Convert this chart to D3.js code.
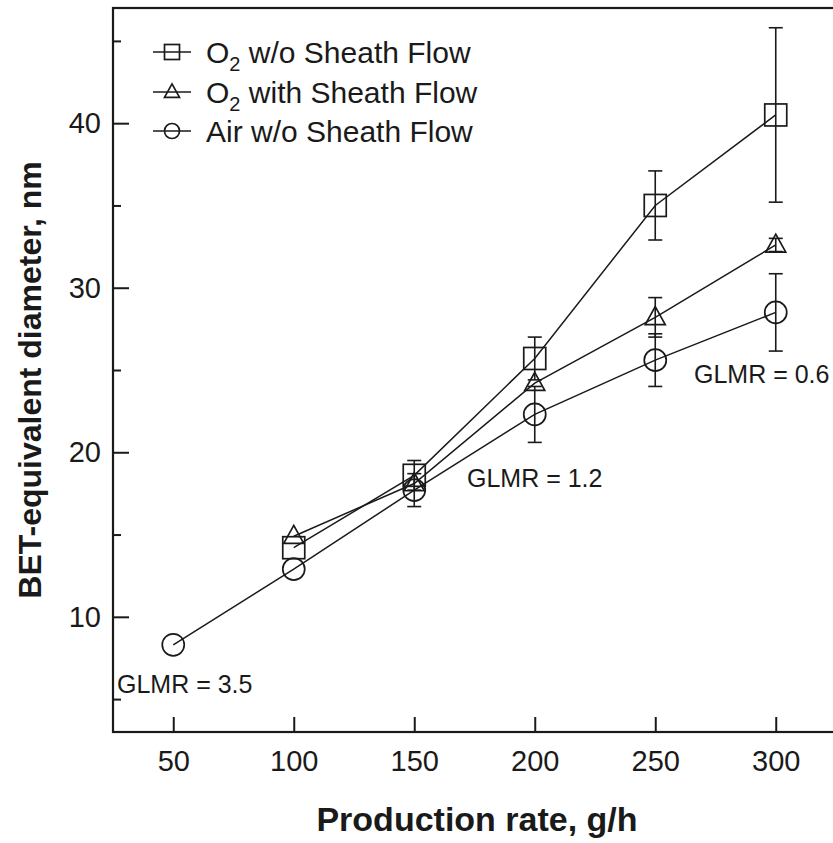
<!DOCTYPE html>
<html>
<head>
<meta charset="utf-8">
<script src="https://cdn.jsdelivr.net/npm/d3@7"></script>
<style>
  html, body { margin: 0; padding: 0; background: #fff; }
  svg { display: block; font-family: "Liberation Sans", Arial, Helvetica, sans-serif; }
</style>
</head>
<body>
<svg id="chart" width="833" height="843"></svg>
<script>
// Production rate (g/h)
const rates = [50, 100, 150, 200, 250, 300];

// BET-equivalent diameter (nm) and error half-widths for each burner setting
const o2NoSheath    = [null, 14.2, 18.6, 25.7, 35.0, 40.5];
const o2NoSheathErr = [null, 0, 0.9, 1.3, 2.1, 5.3];
const o2Sheath      = [null, 14.9, 18.1, 24.2, 28.2, 32.6];
const o2SheathErr   = [null, 0, 0, 0, 1.2, 0.4];
const airNoSheath   = [8.3, 12.9, 17.7, 22.3, 25.6, 28.5];
const airNoSheathErr= [0, 0, 1.0, 1.7, 1.6, 2.35];

const xTicks = [50, 100, 150, 200, 250, 300];
const yMajorTicks = [10, 20, 30, 40];
const yMinorTicks = [5, 15, 25, 35, 45];

const seriesNames = ["O2 w/o Sheath Flow", "O2 with Sheath Flow", "Air w/o Sheath Flow"];
const seriesSymbols = ["square", "triangle", "circle"];

// Gas-to-liquid mass ratio annotations
const glmrLabels = ["GLMR = 3.5", "GLMR = 1.2", "GLMR = 0.6"];

const svg = d3.select("#chart");
const ink = "#1a1a1a";

const x = d3.scaleLinear().domain([25, 325]).range([113, 836]);
const y = d3.scaleLinear().domain([3, 47]).range([732, 8]);

// plot frame
svg.append("rect")
  .attr("x", x(25)).attr("y", y(47))
  .attr("width", x(325) - x(25)).attr("height", y(3) - y(47))
  .attr("fill", "none").attr("stroke", ink).attr("stroke-width", 2.2);

// axes with inward ticks
const xAxis = svg.append("g").attr("transform", `translate(0,${y(3)})`)
  .call(d3.axisBottom(x).tickValues(xTicks).tickSize(-15).tickPadding(18).tickFormat(d3.format("d")));
const yMinor = svg.append("g").attr("transform", `translate(${x(25)},0)`)
  .call(d3.axisLeft(y).tickValues(yMinorTicks).tickSize(-8).tickFormat(""));
const yMajor = svg.append("g").attr("transform", `translate(${x(25)},0)`)
  .call(d3.axisLeft(y).tickValues(yMajorTicks).tickSize(-16).tickPadding(12).tickFormat(d3.format("d")));

[xAxis, yMinor, yMajor].forEach(g => {
  g.select(".domain").remove();
  g.selectAll(".tick line").attr("stroke", ink).attr("stroke-width", 2);
  g.selectAll(".tick text").attr("fill", ink).attr("font-size", 29).attr("font-family", "Liberation Sans, Arial, sans-serif");
});

// axis titles
svg.append("text")
  .attr("x", 477).attr("y", 831)
  .attr("text-anchor", "middle")
  .attr("font-size", 34).attr("font-weight", "bold").attr("fill", ink)
  .text("Production rate, g/h");

svg.append("text")
  .attr("transform", `translate(41,${380}) rotate(-90)`)
  .attr("text-anchor", "middle")
  .attr("font-size", 32).attr("font-weight", "bold").attr("fill", ink)
  .text("BET-equivalent diameter, nm");

// marker drawing
function drawMarker(g, type, cx, cy, s) {
  if (type === "square") {
    g.append("rect").attr("x", cx - s / 2).attr("y", cy - s / 2).attr("width", s).attr("height", s)
      .attr("fill", "none").attr("stroke", ink).attr("stroke-width", 1.7);
  } else if (type === "circle") {
    g.append("circle").attr("cx", cx).attr("cy", cy).attr("r", s / 2)
      .attr("fill", "none").attr("stroke", ink).attr("stroke-width", 1.7);
  } else {
    const h = s * 0.9;
    g.append("path")
      .attr("d", `M${cx},${cy - h * 0.6}L${cx + s / 2},${cy + h * 0.4}L${cx - s / 2},${cy + h * 0.4}Z`)
      .attr("fill", "none").attr("stroke", ink).attr("stroke-width", 1.7);
  }
}

const seriesData = [
  { vals: o2NoSheath, errs: o2NoSheathErr, sym: "square" },
  { vals: o2Sheath, errs: o2SheathErr, sym: "triangle" },
  { vals: airNoSheath, errs: airNoSheathErr, sym: "circle" }
];

const line = d3.line()
  .defined(d => d.v != null)
  .x(d => x(d.r)).y(d => y(d.v));

const plot = svg.append("g");

seriesData.forEach(s => {
  const pts = rates.map((r, i) => ({ r, v: s.vals[i], e: s.errs[i] }));
  plot.append("path").datum(pts)
    .attr("d", line).attr("fill", "none").attr("stroke", ink).attr("stroke-width", 1.5);

  pts.filter(p => p.v != null && p.e > 0).forEach(p => {
    const cx = x(p.r);
    const g = plot.append("g").attr("stroke", ink).attr("stroke-width", 1.6);
    g.append("line").attr("x1", cx).attr("x2", cx).attr("y1", y(p.v - p.e)).attr("y2", y(p.v + p.e));
    g.append("line").attr("x1", cx - 7).attr("x2", cx + 7).attr("y1", y(p.v + p.e)).attr("y2", y(p.v + p.e));
    g.append("line").attr("x1", cx - 7).attr("x2", cx + 7).attr("y1", y(p.v - p.e)).attr("y2", y(p.v - p.e));
  });

  pts.filter(p => p.v != null).forEach(p => {
    drawMarker(plot, s.sym, x(p.r), y(p.v), s.sym === "triangle" ? 20 : 22);
  });
});

// GLMR annotations
const glmrPos = [[117, 693], [467, 487], [694, 383]];
glmrLabels.forEach((t, i) => {
  svg.append("text")
    .attr("x", glmrPos[i][0]).attr("y", glmrPos[i][1])
    .attr("font-size", 25).attr("fill", ink)
    .text(t);
});

// legend
const legend = svg.append("g");
const rowY = [52, 92, 131];
seriesNames.forEach((name, i) => {
  const cy = rowY[i];
  legend.append("line").attr("x1", 153).attr("x2", 191).attr("y1", cy).attr("y2", cy)
    .attr("stroke", ink).attr("stroke-width", 1.4);
  drawMarker(legend, seriesSymbols[i], 172, cy, 15);
  const txt = legend.append("text").attr("x", 206).attr("y", cy + 11)
    .attr("font-size", 30).attr("fill", ink);
  if (name.startsWith("O2")) {
    txt.append("tspan").text("O");
    txt.append("tspan").attr("font-size", 20).attr("dy", 8).text("2");
    txt.append("tspan").attr("dy", -8).text(name.slice(2));
  } else {
    txt.text(name);
  }
});
</script>
</body>
</html>
